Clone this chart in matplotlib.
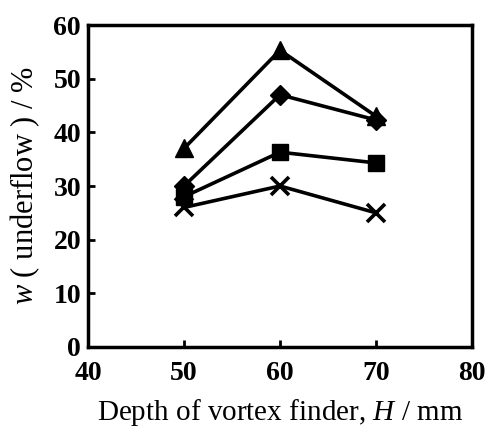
import matplotlib
matplotlib.use("Agg")
import matplotlib.pyplot as plt

depth = [50, 60, 70]
tri = [37, 55.3, 43]
dia = [30, 47, 42.3]
sq = [28, 36.3, 34.3]
cross = [26, 30, 25]

plt.rcParams['font.family'] = ['Liberation Serif', 'DejaVu Serif']
plt.rcParams['mathtext.fontset'] = 'custom'
plt.rcParams['mathtext.it'] = 'Liberation Serif:italic'
plt.rcParams['mathtext.rm'] = 'Liberation Serif'

fig = plt.figure(figsize=(4.88, 4.36), dpi=100)
ax = fig.add_axes([88/488, 1-347/436, 384/488, 322/436])

kw = dict(color='black', lw=2.6)
ax.plot(depth, tri, marker='^', ms=13, **kw)
ax.plot(depth, dia, marker='D', ms=10, **kw)
ax.plot(depth, sq, marker='s', ms=11, **kw)
ax.plot(depth, cross, marker='x', ms=13, mew=2.6, **kw)

ax.set_xlim(40, 80)
ax.set_ylim(0, 60)
ax.set_xticks([40, 50, 60, 70, 80])
ax.set_yticks([0, 10, 20, 30, 40, 50, 60])
for s in ax.spines.values():
    s.set_linewidth(2.5)
ax.tick_params(direction='in', length=5, width=2, labelsize=20)
ax.tick_params(axis='x', pad=10)
ax.tick_params(axis='y', pad=5)
for t in ax.get_xticklabels() + ax.get_yticklabels():
    t.set_fontweight('bold')

ax.set_xlabel('Depth of vortex finder, $H$ / mm', fontsize=21, labelpad=8)
ax.set_ylabel('$w$ ( underflow ) / %', fontsize=22, labelpad=8)

fig.savefig('out.png', dpi=100)
